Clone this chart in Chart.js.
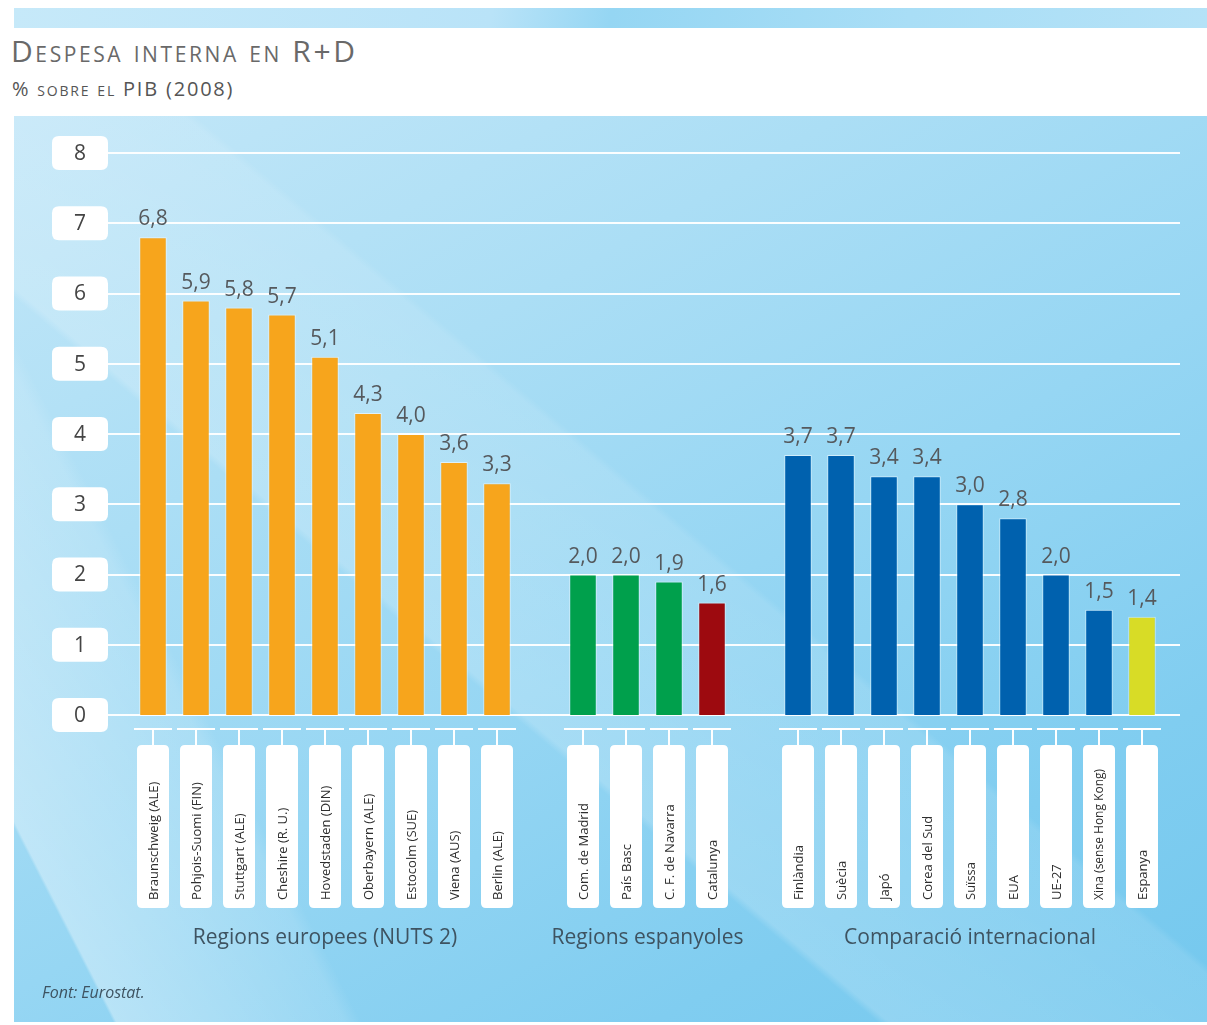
<!DOCTYPE html>
<html><head><meta charset="utf-8">
<script src="https://cdn.jsdelivr.net/npm/chart.js@4.4.1/dist/chart.umd.min.js"></script>
<style>
html,body{margin:0;padding:0;background:#fff;}
#page{position:relative;width:1207px;height:1025px;overflow:hidden;background:#fff;font-family:"Open Sans",sans-serif;}
#band{position:absolute;left:14px;top:8px;width:1193px;height:20px;
 background:linear-gradient(100deg,#c6e9f9 0%,#b9e3f8 40%,#95d6f3 50%,#a9def6 75%,#b5e2f7 100%);}
#panel{position:absolute;left:14px;top:116px;width:1193px;height:906px;
 background:
  linear-gradient(63deg, rgba(255,255,255,0) 0%, rgba(255,255,255,0) 6%, rgba(255,255,255,0.35) 6.2%, rgba(255,255,255,0.12) 20%, rgba(255,255,255,0) 21%),
  linear-gradient(40deg, rgba(255,255,255,0) 38%, rgba(255,255,255,0.18) 38.5%, rgba(255,255,255,0.1) 55%, rgba(255,255,255,0) 55.5%),
  linear-gradient(150deg,#c3e7f8 0%,#abdef5 30%,#96d6f3 55%,#80cdf0 80%,#74c8ee 100%);}
#title{position:absolute;left:11px;top:36px;font-size:30px;line-height:30px;font-variant:small-caps;color:#696969;letter-spacing:2.6px;white-space:nowrap;}
#subtitle{position:absolute;left:12px;top:79px;font-size:20px;line-height:20px;font-variant:small-caps;color:#555;letter-spacing:1.8px;white-space:nowrap;}
#source{position:absolute;left:42px;top:984px;font-size:16px;line-height:16px;font-style:italic;color:#3e5361;white-space:nowrap;}
#wrap{position:absolute;left:0;top:0;width:1207px;height:1025px;}
</style></head>
<body><div id="page">
<div id="band"></div>
<div id="panel"></div>
<div id="title">Despesa interna en R+D</div>
<div id="subtitle">% sobre el PIB (2008)</div>
<div id="wrap"><canvas id="c"></canvas></div>
<div id="source">Font: Eurostat.</div>
</div>
<script>
// ---- data ----
const groupTitles = ["Regions europees (NUTS 2)", "Regions espanyoles", "Comparació internacional"];
const europeLabels = ["Braunschweig (ALE)", "Pohjois-Suomi (FIN)", "Stuttgart (ALE)", "Cheshire (R. U.)", "Hovedstaden (DIN)", "Oberbayern (ALE)", "Estocolm (SUE)", "Viena (AUS)", "Berlin (ALE)"];
const europeValues = [6.8, 5.9, 5.8, 5.7, 5.1, 4.3, 4.0, 3.6, 3.3];
const spainLabels = ["Com. de Madrid", "País Basc", "C. F. de Navarra", "Catalunya"];
const spainValues = [2.0, 2.0, 1.9, 1.6];
const intlLabels = ["Finlàndia", "Suècia", "Japó", "Corea del Sud", "Suïssa", "EUA", "UE-27", "Xina (sense Hong Kong)", "Espanya"];
const intlValues = [3.7, 3.7, 3.4, 3.4, 3.0, 2.8, 2.0, 1.5, 1.4];
const yTicks = [0, 1, 2, 3, 4, 5, 6, 7, 8];

// ---- styles ----
const groupColors = ["#f7a51c", "#00a04c", "#0061ae"];
const highlightColors = {"Catalunya": "#9d0a0f", "Espanya": "#d8dc26"};

const groups = [
  {labels: europeLabels, values: europeValues},
  {labels: spainLabels, values: spainValues},
  {labels: intlLabels, values: intlValues}
];
const labels = [], values = [], colors = [], groupIndex = [];
groups.forEach((g, gi) => {
  if (gi > 0) { labels.push(""); values.push(null); colors.push("rgba(0,0,0,0)"); groupIndex.push(-1); }
  g.labels.forEach((l, i) => {
    labels.push(l); values.push(g.values[i]);
    colors.push(highlightColors[l] || groupColors[gi]); groupIndex.push(gi);
  });
});

function rr(ctx, x, y, w, h, r) {
  ctx.beginPath();
  ctx.moveTo(x + r, y); ctx.lineTo(x + w - r, y); ctx.quadraticCurveTo(x + w, y, x + w, y + r);
  ctx.lineTo(x + w, y + h - r); ctx.quadraticCurveTo(x + w, y + h, x + w - r, y + h);
  ctx.lineTo(x + r, y + h); ctx.quadraticCurveTo(x, y + h, x, y + h - r);
  ctx.lineTo(x, y + r); ctx.quadraticCurveTo(x, y, x + r, y); ctx.closePath();
}

const decor = {
  id: 'decor',
  beforeDatasetsDraw(chart) {
    const ctx = chart.ctx, y = chart.scales.y;
    ctx.save();
    ctx.strokeStyle = "rgba(255,255,255,0.95)"; ctx.lineWidth = 2;
    yTicks.forEach(v => {
      const py = Math.round(y.getPixelForValue(v));
      ctx.beginPath(); ctx.moveTo(106, py); ctx.lineTo(1180, py); ctx.stroke();
    });
    ctx.font = '21px "Open Sans"'; ctx.textAlign = 'center'; ctx.textBaseline = 'middle';
    yTicks.forEach(v => {
      const py = y.getPixelForValue(v);
      ctx.fillStyle = "#ffffff"; rr(ctx, 52, py - 17, 56, 34, 7); ctx.fill();
      ctx.fillStyle = "#444"; ctx.fillText(String(v), 80, py + 1);
    });
    ctx.restore();
  },
  afterDatasetsDraw(chart) {
    const ctx = chart.ctx, x = chart.scales.x, y = chart.scales.y;
    ctx.save();
    // value labels
    ctx.font = '21px "Open Sans"'; ctx.textAlign = 'center'; ctx.textBaseline = 'alphabetic';
    ctx.fillStyle = "#55595d";
    values.forEach((v, i) => {
      if (v == null) return;
      ctx.fillText(v.toFixed(1).replace('.', ','), x.getPixelForValue(i), y.getPixelForValue(v) - 12);
    });
    // category label boxes
    labels.forEach((l, i) => {
      if (!l) return;
      const cx = Math.round(x.getPixelForValue(i));
      ctx.strokeStyle = "#ffffff"; ctx.lineWidth = 2;
      ctx.beginPath(); ctx.moveTo(cx - 19, 729); ctx.lineTo(cx + 19, 729); ctx.stroke();
      ctx.beginPath(); ctx.moveTo(cx, 729); ctx.lineTo(cx, 746); ctx.stroke();
      ctx.fillStyle = "#ffffff"; rr(ctx, cx - 16, 745, 32, 163, 5); ctx.fill();
      ctx.save();
      ctx.translate(cx + 1, 900); ctx.rotate(-Math.PI / 2);
      ctx.fillStyle = "#2e2e2e"; ctx.textAlign = 'left'; ctx.textBaseline = 'middle';
      ctx.font = (l.length > 20 ? '12px' : '13px') + ' "Open Sans"';
      ctx.fillText(l, 0, 0);
      ctx.restore();
    });
    // group titles
    ctx.font = '21px "Open Sans"'; ctx.fillStyle = "#3e5361"; ctx.textAlign = 'center'; ctx.textBaseline = 'middle';
    groupTitles.forEach((t, gi) => {
      const idx = groupIndex.map((g, i) => g === gi ? i : -1).filter(i => i >= 0);
      const c = (x.getPixelForValue(idx[0]) + x.getPixelForValue(idx[idx.length - 1])) / 2;
      ctx.fillText(t, c, 938);
    });
    ctx.restore();
  }
};

new Chart(document.getElementById('c'), {
  type: 'bar',
  data: { labels: labels, datasets: [{ data: values, backgroundColor: colors,
    borderColor: "rgba(255,255,255,0.55)", borderWidth: 1, borderSkipped: 'bottom',
    barPercentage: 0.64, categoryPercentage: 1.0 }] },
  options: {
    responsive: true, maintainAspectRatio: false, animation: false,
    layout: { padding: { left: 131.5, right: 43.5, top: 153, bottom: 310 } },
    plugins: { legend: { display: false }, tooltip: { enabled: false } },
    scales: {
      x: { display: false, offset: true, grid: { display: false } },
      y: { display: false, min: 0, max: 8 }
    }
  },
  plugins: [decor]
});
</script>
</body></html>
